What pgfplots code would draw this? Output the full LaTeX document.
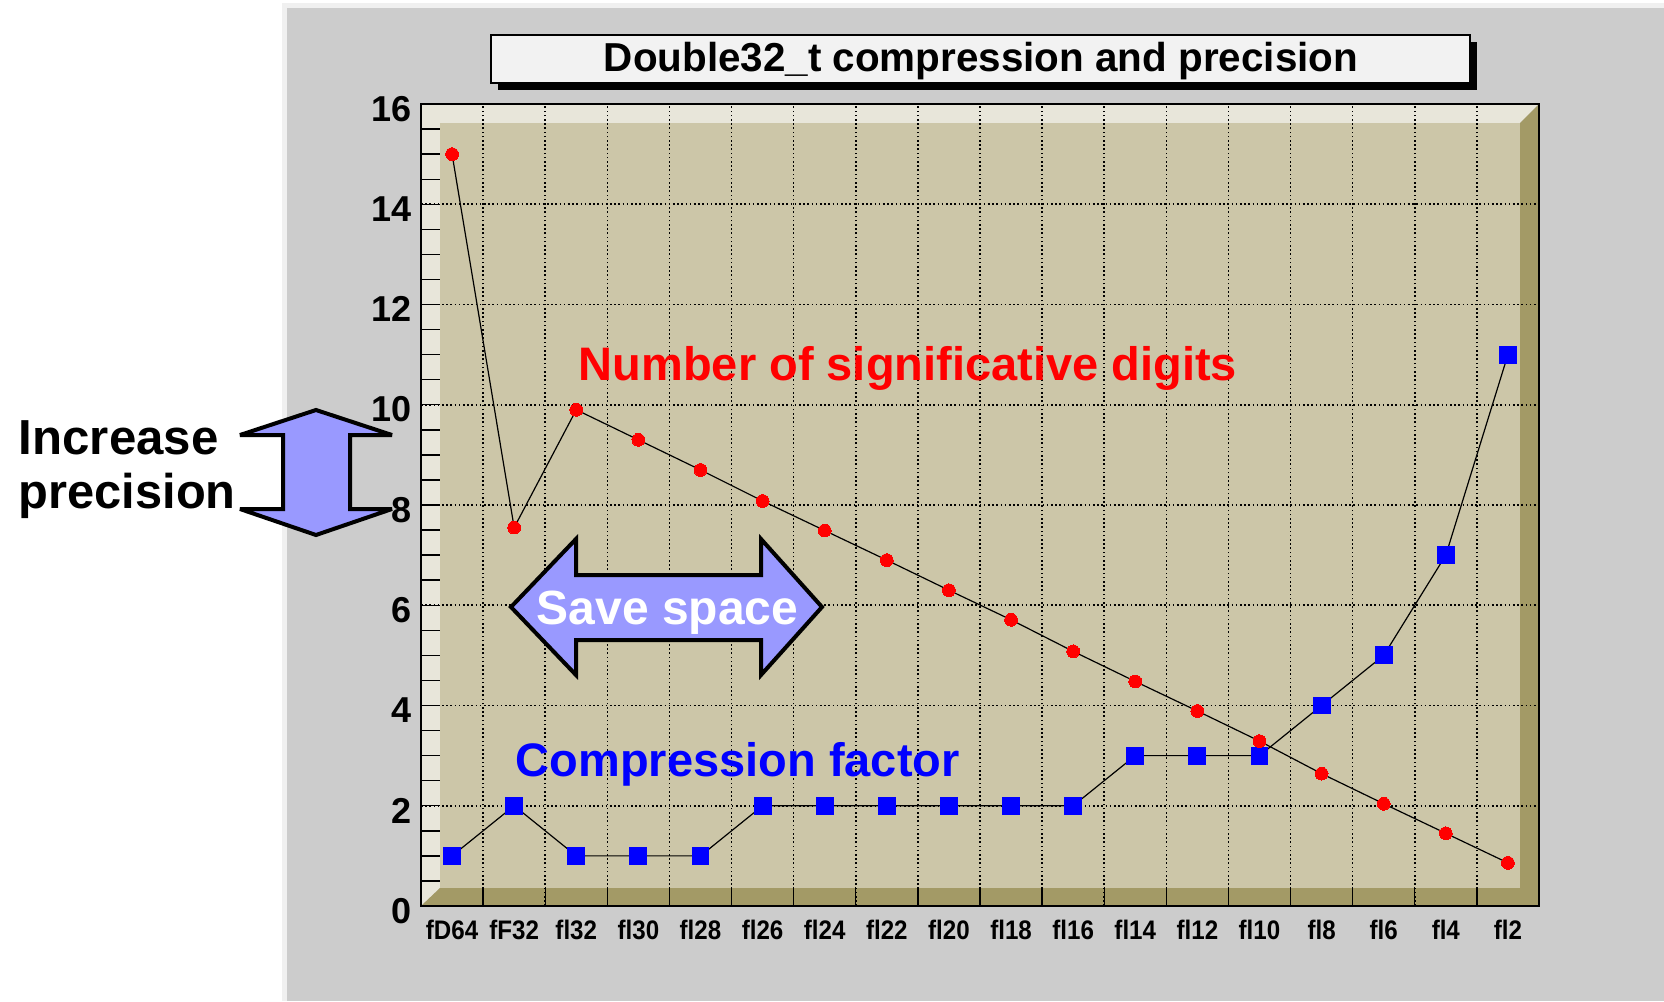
\documentclass[border=0pt]{standalone}
\usepackage{fontspec}
\setmainfont{Liberation Sans}
\usepackage{graphicx}
\usepackage{pgfplots}
\pgfplotsset{compat=1.18}
\definecolor{canvas}{HTML}{CCCCCC}
\definecolor{canvasedge}{HTML}{F0F0F0}
\definecolor{wall}{HTML}{CCC6A8}
\definecolor{lightwall}{HTML}{E8E6DA}
\definecolor{darkwall}{HTML}{A39A66}
\definecolor{arrowfill}{HTML}{9999FF}
\definecolor{titlefill}{HTML}{F2F2F2}
\newcommand\xl[1]{\scalebox{0.9}[1]{#1}}
\begin{document}
\begin{tikzpicture}[x=0.25pt,y=0.25pt]
\path[use as bounding box, fill=white] (0,0) rectangle (1664,1001);
\fill[canvasedge] (282,0) rectangle (1664,998);
\fill[canvas] (287,0) rectangle (1664,993);
% title box
\fill[black] (498,911) rectangle (1477,959);
\filldraw[fill=titlefill, draw=black, line width=0.5pt] (491,918) rectangle (1470,966);
\node[anchor=base, inner sep=0pt, font=\bfseries\fontsize{10.1}{10}\selectfont] at (981,930) {Double32\_t compression and precision};
% frame bevels
\fill[lightwall] (421,95) -- (421,897) -- (1539,897) -- (1520,878) -- (440,878) -- (440,113) -- cycle;
\fill[darkwall] (421,95) -- (1539,95) -- (1539,897) -- (1520,878) -- (1520,113) -- (440,113) -- cycle;
\fill[wall] (440,113) rectangle (1520,878);
\begin{axis}[
  at={(105.25pt,23.75pt)}, anchor=south west,
  scale only axis, width=279.5pt, height=200.5pt,
  xmin=0, xmax=18, ymin=0, ymax=16,
  xtick={0.5,1.5,...,17.5},
  xticklabels={\xl{fD64},\xl{fF32},\xl{fl32},\xl{fl30},\xl{fl28},\xl{fl26},\xl{fl24},\xl{fl22},\xl{fl20},\xl{fl18},\xl{fl16},\xl{fl14},\xl{fl12},\xl{fl10},\xl{fl8},\xl{fl6},\xl{fl4},\xl{fl2}},
  minor xtick={1,2,...,17},
  ytick={0,2,...,16}, minor y tick num=3,
  xtick pos=bottom, ytick pos=left,
  tick align=inside,
  major tick length=4.75pt, minor tick length=4.75pt,
  major x tick style={draw=none},
  every tick/.style={black, line width=0.35pt},
  xmajorgrids=false, xminorgrids=true, ymajorgrids=true, yminorgrids=false,
  major grid style={black, line width=0.4pt, dash pattern=on 0.4pt off 0.65pt},
  minor grid style={black, line width=0.4pt, dash pattern=on 0.4pt off 0.65pt},
  axis line style={black, line width=0.5pt},
  /pgf/number format/assume math mode=true,
  yticklabel style={font=\bfseries\fontsize{9}{9}\selectfont, anchor=east, inner sep=0pt, xshift=-2.25pt, yshift=-1.2pt},
  xticklabel style={font=\bfseries\fontsize{6.7}{7}\selectfont, anchor=north, inner sep=0pt, yshift=-3.25pt},
]
\addplot[black, line width=0.3pt, mark=square*, mark size=2.1pt, mark options={fill=blue, draw=blue, line width=0pt}]
coordinates {(0.5,1) (1.5,2) (2.5,1) (3.5,1) (4.5,1) (5.5,2) (6.5,2) (7.5,2) (8.5,2) (9.5,2) (10.5,2) (11.5,3) (12.5,3) (13.5,3) (14.5,4) (15.5,5) (16.5,7) (17.5,11)};
\addplot[black, line width=0.3pt, mark=*, mark size=1.6pt, mark options={fill=red, draw=red, line width=0pt}]
coordinates {(0.5,15.0) (1.5,7.55) (2.5,9.9) (3.5,9.3) (4.5,8.7) (5.5,8.08) (6.5,7.49) (7.5,6.9) (8.5,6.3) (9.5,5.71) (10.5,5.08) (11.5,4.48) (12.5,3.89) (13.5,3.29) (14.5,2.64) (15.5,2.04) (16.5,1.45) (17.5,0.86)};
\end{axis}
% overlays
\node[anchor=base west, inner sep=0pt, text=red, font=\bfseries\fontsize{11.75}{12}\selectfont] at (578,621) {Number of significative digits};
\node[anchor=base west, inner sep=0pt, text=blue, font=\bfseries\fontsize{11.75}{12}\selectfont] at (515,225) {Compression factor};
\filldraw[fill=arrowfill, draw=black, line width=1pt, line join=miter, miter limit=3]
  (511,394) -- (576,462) -- (576,426) -- (761,426) -- (761,462) -- (822,394) -- (761,326) -- (761,361) -- (576,361) -- (576,326) -- cycle;
\node[anchor=base west, inner sep=0pt, text=white, font=\bfseries\fontsize{12}{12}\selectfont] at (536,377) {Save space};
\filldraw[fill=arrowfill, draw=black, line width=1pt, line join=miter, miter limit=3]
  (316,591) -- (392,566) -- (350,566) -- (350,492) -- (392,492) -- (316,466) -- (240,492) -- (283,492) -- (283,566) -- (240,566) -- cycle;
\node[anchor=base west, inner sep=0pt, font=\bfseries\fontsize{12.3}{12}\selectfont] at (18,547) {Increase};
\node[anchor=base west, inner sep=0pt, font=\bfseries\fontsize{12.2}{12}\selectfont] at (18,493) {precision};
\end{tikzpicture}
\end{document}
